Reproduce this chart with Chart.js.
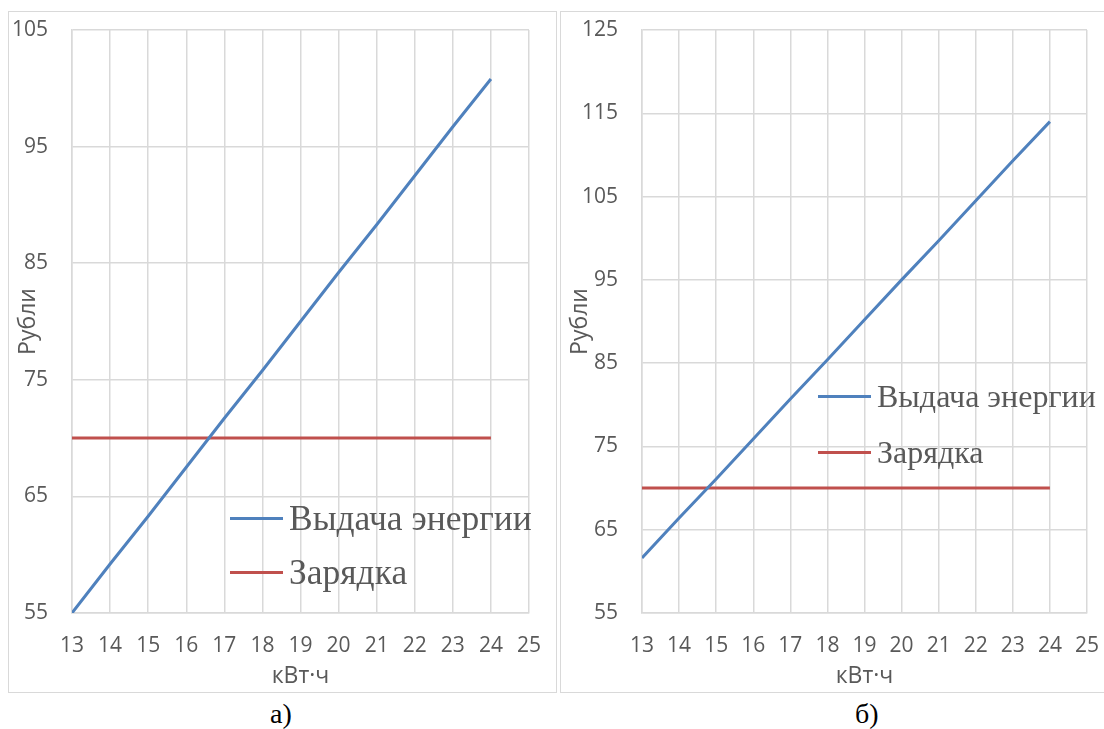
<!DOCTYPE html>
<html>
<head>
<meta charset="utf-8">
<script src="https://cdn.jsdelivr.net/npm/chart.js@4.4.0/dist/chart.umd.min.js"></script>
<style>
body{margin:0;width:1104px;height:729px;overflow:hidden;background:#fff;position:relative;}
.box{position:absolute;top:11px;border:1px solid #d9d9d9;}
.leg{position:absolute;display:flex;align-items:center;height:40px;font-family:"Liberation Serif",serif;color:#595959;white-space:nowrap;}
.leg span{display:inline-block;width:53px;height:3px;margin-right:6px;}
.cap{position:absolute;top:698px;font-family:"Liberation Serif",serif;font-size:28px;color:#000;}
</style>
</head>
<body>
<div class="box" style="left:8px;width:547px;height:680px;"><canvas id="chartA" width="547" height="680"></canvas></div>
<div class="box" style="left:560px;width:546px;height:680px;"><canvas id="chartB" width="546" height="680"></canvas></div>

<div class="leg" style="left:230px;top:498px;font-size:35.5px;"><span style="background:#4f81bd"></span>Выдача энергии</div>
<div class="leg" style="left:230px;top:552px;font-size:35.5px;"><span style="background:#c0504d"></span>Зарядка</div>
<div class="leg" style="left:818px;top:376px;font-size:32px;"><span style="background:#4f81bd"></span>Выдача энергии</div>
<div class="leg" style="left:818px;top:432px;font-size:32px;"><span style="background:#c0504d"></span>Зарядка</div>

<div class="cap" style="left:270px;">а)</div>
<div class="cap" style="left:855px;">б)</div>

<script>
let kwh = [13,14,15,16,17,18,19,20,21,22,23,24];
let outputA = [55,59.2,63.3,67.5,71.7,75.8,80.0,84.2,88.3,92.5,96.7,100.8];
let chargeA = [70,70,70,70,70,70,70,70,70,70,70,70];
let outputB = [61.6,66.4,71.1,75.9,80.7,85.4,90.2,95.0,99.7,104.5,109.3,114.0];
let chargeB = [70,70,70,70,70,70,70,70,70,70,70,70];
let xTitle = "кВт·ч";
let yTitle = "Рубли";
let seriesNames = ["Выдача энергии","Зарядка"];

function points(ys){
return kwh.map((x,i)=>({x:x,y:ys[i]}));
}

function drawChart(id,blue,red,yMax,yWidth,rightPad){
let tickFont = {family:"Open Sans", size:21};
let titleFont = {family:"Open Sans", size:23};
let grid = {color:"#d9d9d9", lineWidth:1.5, drawTicks:false};
return new Chart(document.getElementById(id),{
type:"line",
data:{
datasets:[
{label:seriesNames[0], data:points(blue), borderColor:"#4f81bd", borderWidth:3, pointRadius:0, fill:false},
{label:seriesNames[1], data:points(red), borderColor:"#c0504d", borderWidth:3, pointRadius:0, fill:false}
]
},
options:{
responsive:false,
animation:false,
layout:{padding:{top:18,right:rightPad,left:0,bottom:0}},
plugins:{legend:{display:false},tooltip:{enabled:false}},
scales:{
x:{
type:"linear", min:13, max:25,
ticks:{stepSize:1, color:"#595959", font:tickFont, padding:20, maxRotation:0},
grid:grid,
border:{color:"#d9d9d9", width:1.5},
title:{display:true, text:xTitle, color:"#595959", font:titleFont, padding:{top:0,bottom:2}},
afterFit:function(s){ s.height = 79; s.paddingLeft = 0; s.paddingRight = 0; }
},
y:{
min:55, max:yMax,
ticks:{stepSize:10, color:"#595959", font:tickFont, padding:24},
grid:grid,
border:{color:"#d9d9d9", width:1.5},
title:{display:true, text:yTitle, color:"#595959", font:titleFont, padding:{top:6,bottom:0}},
afterFit:function(s){ s.width = yWidth; s.paddingTop = 0; s.paddingBottom = 0; }
}
}
}
});
}

drawChart("chartA",outputA,chargeA,105,63,27);
drawChart("chartB",outputB,chargeB,125,81,20);
</script>
</body>
</html>
